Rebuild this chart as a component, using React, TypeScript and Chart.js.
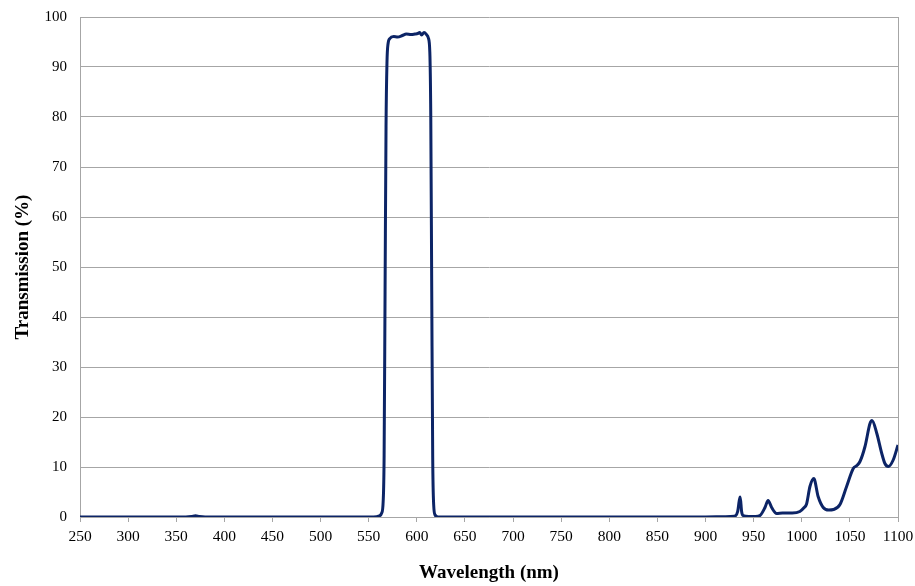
import React, { useEffect, useRef } from "react";
import { Chart, registerables } from "chart.js";

Chart.register(...registerables);

const wavelengths: number[] = [
  250, 300, 360, 366, 370, 374, 380, 450, 520, 555, 561, 563.5, 565, 566, 567, 568, 569, 570, 572,
  576, 580, 585, 589, 594, 598, 601, 603, 605, 607.5, 610, 612, 613.5, 614.5, 615.5, 616.5, 617.5, 619, 622,
  650, 750, 850, 900, 920, 930, 933.4, 935, 936, 937.5, 939, 945, 952, 956.6, 961.8, 965, 968.7, 973.9,
  980, 990, 998, 1002, 1005, 1008.5, 1012.5, 1017, 1022.3, 1028, 1033, 1039.7, 1046.6, 1053.5, 1057.3,
  1060.5, 1065.7, 1070.9, 1073, 1078, 1083, 1086.4, 1090, 1095, 1100,
];

const transmission: number[] = [
  0, 0, 0, 0.1, 0.25, 0.1, 0, 0, 0, 0, 0.2, 0.8, 3, 12, 45, 78, 91, 94.5, 95.7,
  96.1, 96.0, 96.3, 96.6, 96.5, 96.6, 96.7, 96.9, 96.4, 96.9, 96.5, 95.8, 93, 80, 45, 12, 2.5, 0.4, 0,
  0, 0, 0, 0, 0.05, 0.15, 1.1, 3.2, 4.0, 1.1, 0.3, 0.1, 0.1, 0.3, 1.9, 3.3, 1.9, 0.7,
  0.8, 0.8, 1.1, 1.8, 2.6, 6.1, 7.7, 4.1, 1.9, 1.4, 1.5, 2.5, 6.1, 9.7, 10.3,
  11.1, 14.1, 18.7, 19.3, 16.7, 12.8, 10.7, 10.1, 11.4, 14.4,
];

const xTicks: number[] = [250, 300, 350, 400, 450, 500, 550, 600, 650, 700, 750, 800, 850, 900, 950, 1000, 1050, 1100];
const yTicks: number[] = [0, 10, 20, 30, 40, 50, 60, 70, 80, 90, 100];

const xTitle = "Wavelength (nm)";
const yTitle = "Transmission (%)";

const FONT = "'Liberation Serif', 'Times New Roman', serif";
const GRID = "#a6a6a6";

const rightBorder = {
  id: "rightBorder",
  afterDraw(chart: any) {
    const { ctx, chartArea } = chart;
    ctx.save();
    ctx.strokeStyle = GRID;
    ctx.lineWidth = 1;
    ctx.beginPath();
    ctx.moveTo(Math.round(chartArea.right) + 0.5, chartArea.top);
    ctx.lineTo(Math.round(chartArea.right) + 0.5, chartArea.bottom);
    ctx.stroke();
    ctx.restore();
  },
};

export default function App() {
  const ref = useRef<HTMLCanvasElement | null>(null);

  useEffect(() => {
    if (!ref.current) return;
    const data = wavelengths.map((w, i) => ({ x: w, y: transmission[i] }));
    const chart = new Chart(ref.current, {
      type: "line",
      data: {
        datasets: [
          {
            data,
            borderColor: "#0c2466",
            borderWidth: 3,
            pointRadius: 0,
            cubicInterpolationMode: "monotone",
            fill: false,
          },
        ],
      },
      options: {
        animation: false,
        responsive: false,
        maintainAspectRatio: false,
        layout: { autoPadding: false, padding: { left: 9, right: 17, top: 17, bottom: 0 } },
        plugins: { legend: { display: false }, tooltip: { enabled: false } },
        scales: {
          x: {
            type: "linear",
            min: 250,
            max: 1100,
            afterBuildTicks: (scale: any) => {
              scale.ticks = xTicks.map((v) => ({ value: v }));
            },
            afterFit: (scale: any) => {
              scale.height = 69;
              scale.paddingLeft = 0;
              scale.paddingRight = 0;
            },
            grid: {
              drawOnChartArea: false,
              drawTicks: true,
              tickLength: 5,
              color: GRID,
            },
            border: { display: true, color: GRID },
            ticks: {
              color: "#000",
              font: { family: FONT, size: 15.5 },
              padding: 6,
              maxRotation: 0,
              autoSkip: false,
              callback: (v: any) => String(v),
            },
            title: {
              display: true,
              text: xTitle,
              color: "#000",
              font: { family: FONT, size: 19, weight: "bold" },
              padding: { top: 4, bottom: 2 },
            },
          },
          y: {
            min: 0,
            max: 100,
            afterBuildTicks: (scale: any) => {
              scale.ticks = yTicks.map((v) => ({ value: v }));
            },
            afterFit: (scale: any) => {
              scale.width = 71;
              scale.paddingTop = 0;
              scale.paddingBottom = 0;
            },
            grid: { color: GRID, drawTicks: false },
            border: { display: true, color: GRID },
            ticks: {
              color: "#000",
              font: { family: FONT, size: 15 },
              padding: 13,
              callback: (v: any) => String(v),
            },
            title: {
              display: true,
              text: yTitle,
              color: "#000",
              font: { family: FONT, size: 19, weight: "bold" },
              padding: { top: 3, bottom: 4 },
            },
          },
        },
      },
      plugins: [rightBorder],
    });
    return () => chart.destroy();
  }, []);

  return (
    <div style={{ position: "fixed", left: 0, top: 0, width: 915, height: 586, background: "#fff" }}>
      <canvas ref={ref} width={915} height={586} style={{ display: "block" }} />
    </div>
  );
}
